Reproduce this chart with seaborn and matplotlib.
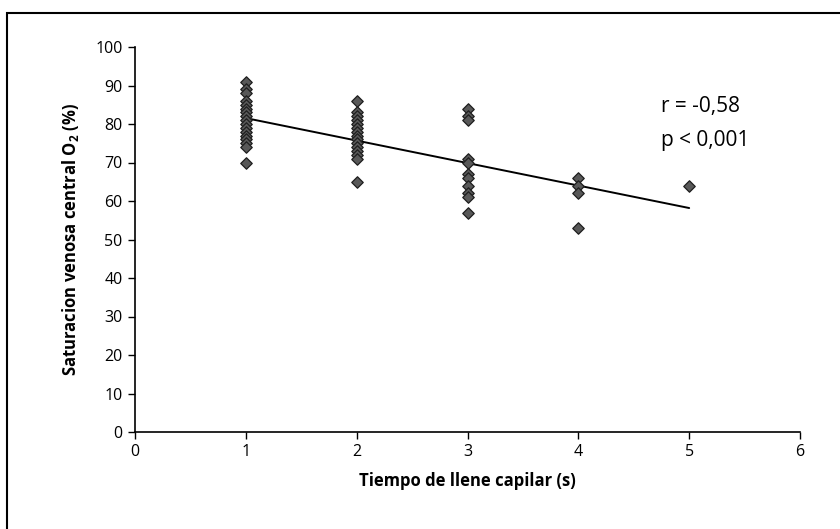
import matplotlib
matplotlib.use("Agg")
import matplotlib.pyplot as plt
import seaborn as sns
import pandas as pd
from matplotlib.patches import Rectangle

# Data
x1 = [91, 89, 88, 86, 85, 84, 83, 82, 81, 80, 79, 78, 77, 76, 75, 74, 70]
x2 = [86, 83, 82, 81, 80, 79, 78, 77, 76, 75, 74, 73, 72, 71, 65]
x3 = [84, 82, 81, 71, 70, 67, 66, 64, 62, 61, 57]
x4 = [66, 64, 62, 53]
x5 = [64]
groups = {1: x1, 2: x2, 3: x3, 4: x4, 5: x5}
xticks = [0, 1, 2, 3, 4, 5, 6]
yticks = [0, 10, 20, 30, 40, 50, 60, 70, 80, 90, 100]

rows = [(k, v) for k, vals in groups.items() for v in vals]
df = pd.DataFrame(rows, columns=["tiempo", "sat"])

sns.set_style("white")
plt.rcParams['font.family'] = ['Open Sans', 'DejaVu Sans']
plt.rcParams['mathtext.fontset'] = 'custom'
plt.rcParams['mathtext.rm'] = 'Open Sans'
plt.rcParams['mathtext.bf'] = 'Open Sans:bold'
plt.rcParams['text.color'] = 'black'
plt.rcParams['axes.labelcolor'] = 'black'
plt.rcParams['xtick.color'] = 'black'
plt.rcParams['ytick.color'] = 'black'

fig = plt.figure(figsize=(8.4, 5.29), dpi=100)
ax = fig.add_axes([135/840, 1-432/529, 665/840, 385/529])

# outer frame
fig.patches.append(Rectangle((7/840, -0.1), 1.2, 1-13/529+0.1, transform=fig.transFigure,
                             fill=False, edgecolor='black', linewidth=1.5))

sns.regplot(data=df, x="tiempo", y="sat", ax=ax, ci=None, marker='D',
            scatter_kws=dict(s=34, color='#585858', edgecolors='#1e1e1e',
                             linewidths=0.9, alpha=1, zorder=3),
            line_kws=dict(color='black', linewidth=1.4, zorder=2))

ax.set_xlim(0, 6)
ax.set_ylim(0, 100)
ax.set_xticks(xticks)
ax.set_yticks(yticks)
ax.set_xticklabels([str(t) for t in xticks], fontsize=11.5)
ax.set_yticklabels([str(t) for t in yticks], fontsize=11.5)
ax.tick_params(axis='both', direction='out', length=5, width=1, color='black',
               bottom=True, left=True, pad=4)
for s in ['top', 'right']:
    ax.spines[s].set_visible(False)
for s in ['left', 'bottom']:
    ax.spines[s].set_color('black')
    ax.spines[s].set_linewidth(1.2)

ax.set_xlabel("Tiempo de llene capilar (s)", fontsize=12, fontweight='bold', labelpad=8)
ax.set_ylabel(r"Saturacion venosa central O$_{\mathbf{2}}$ (%)", fontsize=12,
              fontweight='bold', labelpad=10)

ax.text(4.75, 84.5, "r = -0,58", fontsize=15, ha='left', va='center')
ax.text(4.75, 75.8, "p < 0,001", fontsize=15, ha='left', va='center')

fig.savefig("out.png", dpi=100)
